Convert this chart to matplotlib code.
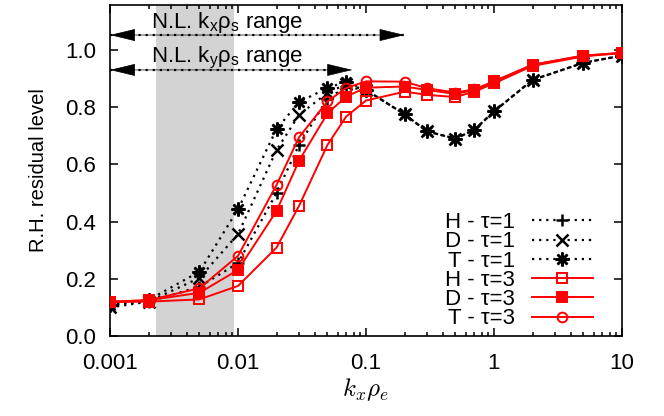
#importing modules
import numpy as np
from matplotlib import pyplot as plt
from matplotlib.patches import FancyArrowPatch

plt.rcParams['font.family'] = ['Liberation Sans', 'DejaVu Sans']
plt.rcParams['mathtext.fontset'] = 'custom'
plt.rcParams['mathtext.rm'] = 'Liberation Sans'
plt.rcParams['mathtext.it'] = 'Liberation Sans:italic'

#data
k = [0.001, 0.002, 0.005, 0.01, 0.02, 0.03, 0.05, 0.07, 0.1,
     0.2, 0.3, 0.5, 0.7, 1, 2, 5, 10]
H1 = [0.11, 0.12, 0.172, 0.255, 0.50, 0.668, 0.83, 0.87, 0.86,
      0.775, 0.715, 0.69, 0.72, 0.785, 0.895, 0.955, 0.98]
D1 = [0.10, 0.12, 0.203, 0.356, 0.65, 0.773, 0.85, 0.88, 0.86,
      0.775, 0.715, 0.69, 0.72, 0.785, 0.895, 0.955, 0.98]
T1 = [0.108, 0.126, 0.225, 0.443, 0.723, 0.818, 0.867, 0.889, 0.86,
      0.775, 0.715, 0.69, 0.72, 0.785, 0.895, 0.955, 0.98]
H3 = [0.119, 0.12, 0.128, 0.175, 0.309, 0.455, 0.668, 0.767, 0.823,
      0.854, 0.843, 0.835, 0.854, 0.883, 0.944, 0.977, 0.99]
D3 = [0.12, 0.125, 0.151, 0.231, 0.437, 0.613, 0.778, 0.837, 0.868,
      0.872, 0.86, 0.846, 0.86, 0.89, 0.948, 0.98, 0.988]
T3 = [0.12, 0.125, 0.167, 0.28, 0.528, 0.695, 0.82, 0.867, 0.89,
      0.889, 0.866, 0.851, 0.862, 0.89, 0.948, 0.98, 0.99]
labels = ['H - τ=1', 'D - τ=1', 'T - τ=1', 'H - τ=3', 'D - τ=3', 'T - τ=3']
shade = (0.0023, 0.0093)
#nonlinear ranges (start, end, level)
ranges = [(0.001, 0.2, 1.052, 'N.L. k$_\\mathregular{x}$ρ$_\\mathregular{s}$ range'),
          (0.001, 0.078, 0.93, 'N.L. k$_\\mathregular{y}$ρ$_\\mathregular{s}$ range')]

fig = plt.figure(figsize=(6.64, 4.16), dpi=100)
ax = fig.add_axes([0.1657, 0.1923, 0.771, 0.7957])

ax.axvspan(shade[0], shade[1], color='#d3d3d3', lw=0, zorder=0)

dot = (0, (1, 2.2))
l1, = ax.plot(k, H1, color='k', ls=dot, lw=1.6, marker='+', ms=9, mew=1.8, zorder=2)
l2, = ax.plot(k, D1, color='k', ls=dot, lw=1.6, marker='x', ms=8, mew=1.8, zorder=2)
l3, = ax.plot(k, T1, color='k', ls=dot, lw=1.6, marker=(8, 2, 0), ms=10, mew=1.8, zorder=2)
l4, = ax.plot(k, H3, color='red', lw=1.4, marker='s', ms=7, mfc='none', mew=1.4, zorder=3)
l5, = ax.plot(k, D3, color='red', lw=1.4, marker='s', ms=7, mew=1.4, zorder=3)
l6, = ax.plot(k, T3, color='red', lw=1.4, marker='o', ms=7, mfc='none', mew=1.4, zorder=3)

#range arrows: dotted shaft + filled heads
for x0, x1, y, txt in ranges:
    ax.plot([x0, x1], [y, y], color='k', ls=dot, lw=1.6, zorder=4)
    arr = FancyArrowPatch((x0, y), (x1, y), arrowstyle='<|-|>,head_length=1.66,head_width=0.4',
                          mutation_scale=10, fc='k', ec='k', lw=0.5, shrinkA=0, shrinkB=0,
                          zorder=4)
    ax.add_patch(arr)
    ax.text(0.0021, y + 0.025, txt, fontsize=16, va='baseline', ha='left', zorder=4)

ax.set_xscale('log')
ax.set_xlim(0.001, 10)
ax.set_ylim(0, 1.157)
ax.set_xticks([0.001, 0.01, 0.1, 1, 10])
ax.set_xticklabels(['0.001', '0.01', '0.1', '1', '10'])
ax.set_yticks(np.arange(0, 1.01, 0.2))
ax.set_yticklabels(['%.1f' % v for v in np.arange(0, 1.01, 0.2)])
ax.tick_params(which='both', direction='in', top=True, right=True, labelsize=16, width=1.1)
ax.tick_params(which='major', length=6)
ax.tick_params(which='minor', length=3)
ax.tick_params(axis='x', which='major', pad=12)
ax.tick_params(axis='y', which='major', pad=10)
for s in ax.spines.values():
    s.set_linewidth(1.2)

ax.set_xlabel(r'$k_x\rho_e$', fontsize=18, math_fontfamily='cm', labelpad=2)
ax.set_ylabel('R.H. residual level', fontsize=14.5, labelpad=12)

ax.legend([l1, l2, l3, l4, l5, l6], labels, loc='lower right', bbox_to_anchor=(0.943, 0.02),
          frameon=False, markerfirst=False, fontsize=16, handlelength=2.75, handletextpad=0.75,
          labelspacing=-0.08, borderpad=0, borderaxespad=0)

plt.savefig('out.png', dpi=100)
